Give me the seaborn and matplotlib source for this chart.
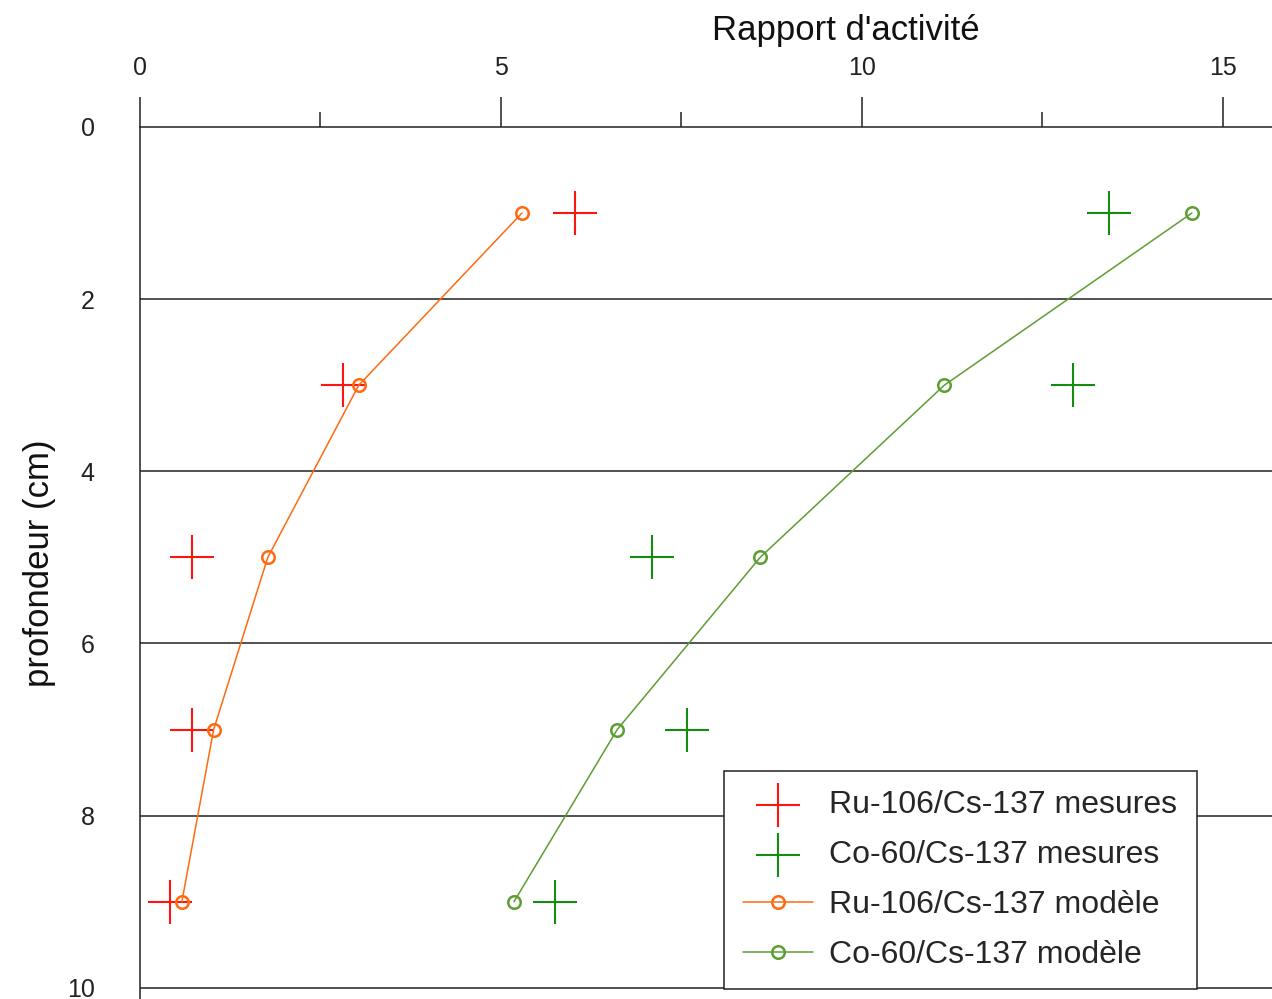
import numpy as np
import pandas as pd
import matplotlib
matplotlib.use('Agg')
import matplotlib.pyplot as plt
from matplotlib.ticker import MultipleLocator
import seaborn as sns

# %%

profondeur = [1, 3, 5, 7, 9]
ru_mesures = [6.02, 2.81, 0.72, 0.72, 0.42]
co_mesures = [13.42, 12.92, 7.09, 7.58, 5.75]
ru_modele = [5.29, 3.03, 1.77, 1.02, 0.58]
co_modele = [14.57, 11.14, 8.59, 6.61, 5.18]

labels = ['Ru-106/Cs-137 mesures', 'Co-60/Cs-137 mesures',
          'Ru-106/Cs-137 modèle', 'Co-60/Cs-137 modèle']

# %%

sns.set_style('white')
plt.rcParams['font.family'] = ['Liberation Sans', 'DejaVu Sans']

fig = plt.figure(figsize=(12.72, 9.99), dpi=100)
ax = fig.add_axes([140 / 1272, 0, 1 - 140 / 1272, 1 - 127 / 999])

sns.scatterplot(x=ru_mesures, y=profondeur, marker='+', s=31 ** 2,
                color='#ff1414', linewidth=1.5, label=labels[0], ax=ax)
sns.scatterplot(x=co_mesures, y=profondeur, marker='+', s=31 ** 2,
                color='#148c14', linewidth=1.5, label=labels[1], ax=ax)
sns.lineplot(x=ru_modele, y=profondeur, sort=False, estimator=None,
             color='#ff6a10', marker='o', markersize=9, markerfacecolor='none',
             markeredgecolor='#ff6a10', markeredgewidth=1.8, linewidth=1.1,
             label=labels[2], ax=ax)
sns.lineplot(x=co_modele, y=profondeur, sort=False, estimator=None,
             color='#5c9e32', marker='o', markersize=9, markerfacecolor='none',
             markeredgecolor='#5c9e32', markeredgewidth=1.8, linewidth=1.1,
             label=labels[3], ax=ax)

ax.set_xlim(0, 15.68)
ax.set_ylim(10.13, 0)

ax.xaxis.set_major_locator(MultipleLocator(5))
ax.xaxis.set_minor_locator(MultipleLocator(2.5))
ax.yaxis.set_major_locator(MultipleLocator(2))
ax.yaxis.set_minor_locator(MultipleLocator(1))
ax.xaxis.tick_top()
ax.xaxis.set_label_position('top')

ax.tick_params(axis='x', which='major', length=21.6, width=1.1, pad=12,
               labelsize=18, color='#222222', labelcolor='#222222')
ax.tick_params(axis='x', which='minor', length=10.8, width=1.1, color='#222222')
ax.tick_params(axis='y', which='major', length=21.6, width=1.1, pad=11,
               labelsize=18, color='#222222', labelcolor='#222222')
ax.tick_params(axis='y', which='minor', length=10.8, width=1.1, color='#222222')

for v in [2, 4, 6, 8, 10]:
    ax.axhline(v, color='#222222', linewidth=1.1, zorder=0)

for side in ['right', 'bottom']:
    ax.spines[side].set_visible(False)
for side in ['top', 'left']:
    ax.spines[side].set_color('#222222')
    ax.spines[side].set_linewidth(1.1)

ax.set_xlabel("Rapport d'activité", fontsize=25, labelpad=12, color='#111111',
              x=(846 - 140) / 1132)
ax.set_ylabel('profondeur (cm)', fontsize=25, labelpad=8, color='#111111')

leg = ax.legend(loc='lower left', bbox_to_anchor=(724 / 1272, 10 / 999),
                bbox_transform=fig.transFigure, fontsize=23, frameon=True,
                fancybox=False, edgecolor='#222222', framealpha=1,
                handlelength=2.2, labelspacing=0.62, borderpad=0.6,
                handletextpad=0.5, borderaxespad=0)
leg.get_frame().set_linewidth(1.1)

fig.savefig('out.png', dpi=100)
